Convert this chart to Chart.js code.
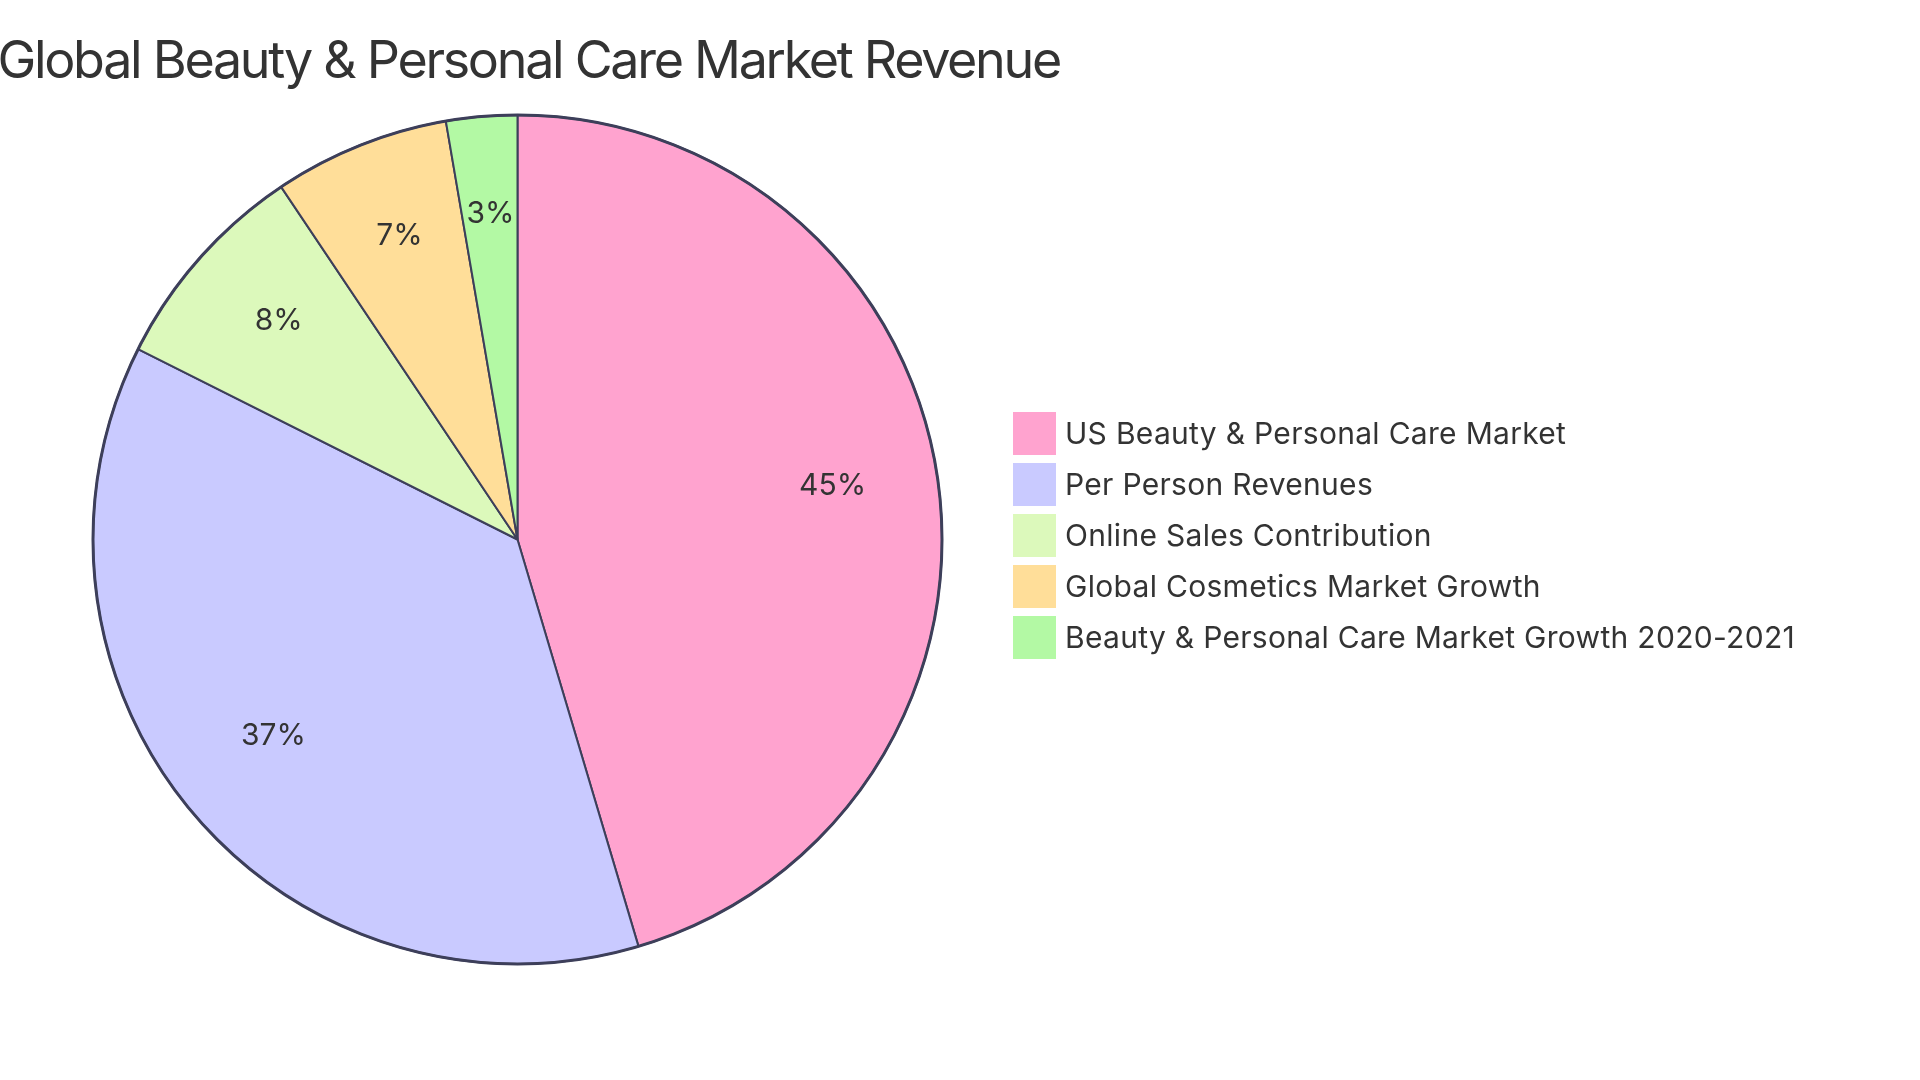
<!DOCTYPE html>
<html>
<head>
<meta charset="utf-8">
<title>Global Beauty & Personal Care Market Revenue</title>
<script src="https://cdn.jsdelivr.net/npm/chart.js@4.4.1/dist/chart.umd.min.js"></script>
<style>
  html, body { margin: 0; padding: 0; background: #ffffff; }
  #wrap { width: 1920px; height: 1080px; }
</style>
</head>
<body>
<div id="wrap"><canvas id="pieChart" width="1920" height="1080"></canvas></div>
<script>
// chart data
const chartTitle = "Global Beauty & Personal Care Market Revenue";
const categories = [
  "US Beauty & Personal Care Market",
  "Per Person Revenues",
  "Online Sales Contribution",
  "Global Cosmetics Market Growth",
  "Beauty & Personal Care Market Growth 2020-2021"
];
const shares = [45.4, 37.0, 8.2, 6.7, 2.7];
const sliceColors = ["#FFA3CF", "#C9CAFF", "#DCF9BB", "#FFDE99", "#B3F9A4"];

const FONT = "Inter, 'Open Sans', 'DejaVu Sans', sans-serif";
const TEXT_COLOR = "#333333";
const EDGE_COLOR = "#3d3f5a";

// title, right edge lined up like the original (left part runs off the page)
const titlePlugin = {
  id: "pieTitle",
  afterDraw(chart) {
    const ctx = chart.ctx;
    ctx.save();
    ctx.font = "400 52px " + FONT;
    ctx.letterSpacing = "-2.3px";
    ctx.fillStyle = TEXT_COLOR;
    ctx.textAlign = "right";
    ctx.textBaseline = "middle";
    ctx.fillText(chartTitle, 1060, 62);
    ctx.restore();
  }
};

// thicker outer ring + percentage text at 3/4 of the radius
const sliceLabels = {
  id: "sliceLabels",
  afterDatasetsDraw(chart) {
    const ctx = chart.ctx;
    const meta = chart.getDatasetMeta(0);
    const data = chart.data.datasets[0].data;
    const total = data.reduce((s, v) => s + v, 0);
    const first = meta.data[0];
    ctx.save();
    ctx.beginPath();
    ctx.arc(first.x, first.y, first.outerRadius, 0, Math.PI * 2);
    ctx.lineWidth = 3;
    ctx.strokeStyle = EDGE_COLOR;
    ctx.stroke();

    ctx.font = "400 30px " + FONT;
    ctx.fillStyle = TEXT_COLOR;
    ctx.textAlign = "center";
    ctx.textBaseline = "middle";
    meta.data.forEach((a, i) => {
      const mid = (a.startAngle + a.endAngle) / 2;
      const r = a.outerRadius * 0.75;
      const pct = (data[i] / total * 100).toFixed(0) + "%";
      ctx.fillText(pct, a.x + Math.cos(mid) * r, a.y + Math.sin(mid) * r - 8);
    });
    ctx.restore();
  }
};

// legend with square swatches on the right
const sideLegend = {
  id: "sideLegend",
  afterDraw(chart) {
    const ctx = chart.ctx;
    const x0 = 1013, y0 = 412, box = 43, step = 51;
    ctx.save();
    ctx.font = "400 30px " + FONT;
    ctx.letterSpacing = "0.3px";
    ctx.textAlign = "left";
    ctx.textBaseline = "middle";
    chart.data.labels.forEach((lab, i) => {
      const y = y0 + i * step;
      ctx.fillStyle = chart.data.datasets[0].backgroundColor[i];
      ctx.fillRect(x0, y, box, box);
      ctx.fillStyle = TEXT_COLOR;
      ctx.fillText(lab, x0 + 52, y + box / 2 + 1);
    });
    ctx.restore();
  }
};

new Chart(document.getElementById("pieChart"), {
  type: "pie",
  data: {
    labels: categories,
    datasets: [{
      data: shares,
      backgroundColor: sliceColors,
      borderColor: EDGE_COLOR,
      borderWidth: 2
    }]
  },
  options: {
    responsive: false,
    animation: false,
    layout: { padding: { left: 92, top: 114, right: 977, bottom: 115 } },
    plugins: {
      legend: { display: false },
      title: { display: false },
      tooltip: { enabled: false }
    }
  },
  plugins: [titlePlugin, sliceLabels, sideLegend]
});
</script>
</body>
</html>
